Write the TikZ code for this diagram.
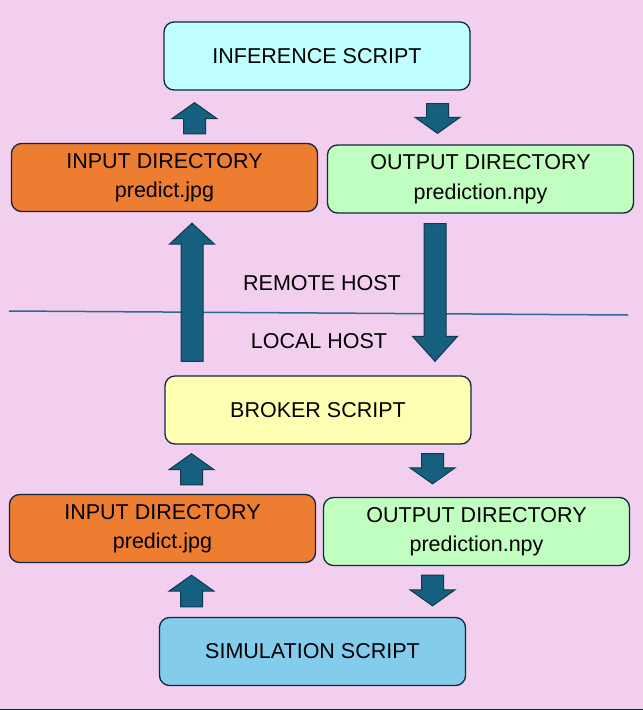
\documentclass[tikz,border=0pt]{standalone}
\usepackage{fontspec}
\setmainfont{Liberation Sans}
\usetikzlibrary{calc}

\definecolor{bgpink}{HTML}{F2CEEF}
\definecolor{boxline}{HTML}{10283A}
\definecolor{infcyan}{HTML}{C0FFFF}
\definecolor{dirorange}{HTML}{ED7D31}
\definecolor{dirgreen}{HTML}{C0FFC0}
\definecolor{brkyellow}{HTML}{FFFFB4}
\definecolor{simblue}{HTML}{83CCEB}
\definecolor{arrfill}{HTML}{155F7F}
\definecolor{arrline}{HTML}{0E3A4E}
\definecolor{hostline}{HTML}{2D6A8F}

\tikzset{
  box/.style={draw=boxline, line width=1.3pt, rounded corners=10pt,
    minimum width=306pt, minimum height=68pt, align=center,
    font=\fontsize{21.5}{29.5}\selectfont},
  hostlabel/.style={font=\fontsize{21.5}{25}\selectfont},
  fatarr/.style={fill=arrfill, draw=arrline, line width=1pt,
    to path={let \p1=(\tikztostart), \p2=(\tikztotarget),
      \n1={sign(\y2-\y1)} in
      ({\x1-11pt},\y1) -- ({\x1-11pt},{\y2-\n1*#1}) -- ({\x1-22.5pt},{\y2-\n1*#1})
      -- (\x1,\y2) -- ({\x1+22.5pt},{\y2-\n1*#1}) -- ({\x1+11pt},{\y2-\n1*#1})
      -- ({\x1+11pt},\y1) -- cycle}},
  fatarr/.default=16pt
}

\begin{document}
\begin{tikzpicture}[x=1pt,y=-1pt]
  \fill[bgpink] (0,0) rectangle (643,710);
  \useasboundingbox (0,0) rectangle (643,710);

  % remote side
  \node[box, fill=infcyan] (inf) at (317,56) {INFERENCE SCRIPT};
  \node[box, fill=dirorange] (in1) at (164.5,177.5) {INPUT DIRECTORY\\predict.jpg};
  \node[box, fill=dirgreen] (out1) at (480.5,179) {OUTPUT DIRECTORY\\prediction.npy};

  % host split
  \coordinate (splitl) at (9,311);
  \coordinate (splitr) at (628,315);
  \draw[hostline, line width=1.5pt] (splitl) -- (splitr);
  \node[hostlabel] (remote) at (322,283) {REMOTE HOST};
  \node[hostlabel] (local) at (319,341) {LOCAL HOST};

  % local side
  \node[box, fill=brkyellow] (brk) at (318,410) {BROKER SCRIPT};
  \node[box, fill=dirorange] (in2) at (162.5,528.5) {INPUT DIRECTORY\\predict.jpg};
  \node[box, fill=dirgreen] (out2) at (476.5,531.5) {OUTPUT DIRECTORY\\prediction.npy};
  \node[box, fill=simblue] (sim) at (312.5,651.5) {SIMULATION SCRIPT};

  % transfers
  \draw[fatarr] ([xshift=30pt,yshift=9pt]in1.north) to ([yshift=-12pt]inf.south);
  \draw[fatarr] ([xshift=120.5pt,yshift=-13pt]inf.south) to ([yshift=11pt]out1.north);
  \draw[fatarr=21pt] ([xshift=-126pt,yshift=14pt]brk.north) to ([yshift=-11pt]in1.south);
  \draw[fatarr=25pt] ([xshift=-45.5pt,yshift=-10pt]out1.south) to ([yshift=14pt]brk.north);
  \draw[fatarr] ([xshift=29pt,yshift=9pt]in2.north) to ([yshift=-9pt]brk.south);
  \draw[fatarr] ([xshift=114.5pt,yshift=-9pt]brk.south) to ([yshift=13pt]out2.north);
  \draw[fatarr] ([xshift=-121pt,yshift=10pt]sim.north) to ([yshift=-12pt]in2.south);
  \draw[fatarr] ([xshift=-44pt,yshift=-9pt]out2.south) to ([yshift=11pt]sim.north);

  \coordinate (footl) at (0,709.5);
  \coordinate (footr) at (643,709.5);
  \draw[boxline, line width=1pt] (footl) -- (footr);
\end{tikzpicture}
\end{document}
